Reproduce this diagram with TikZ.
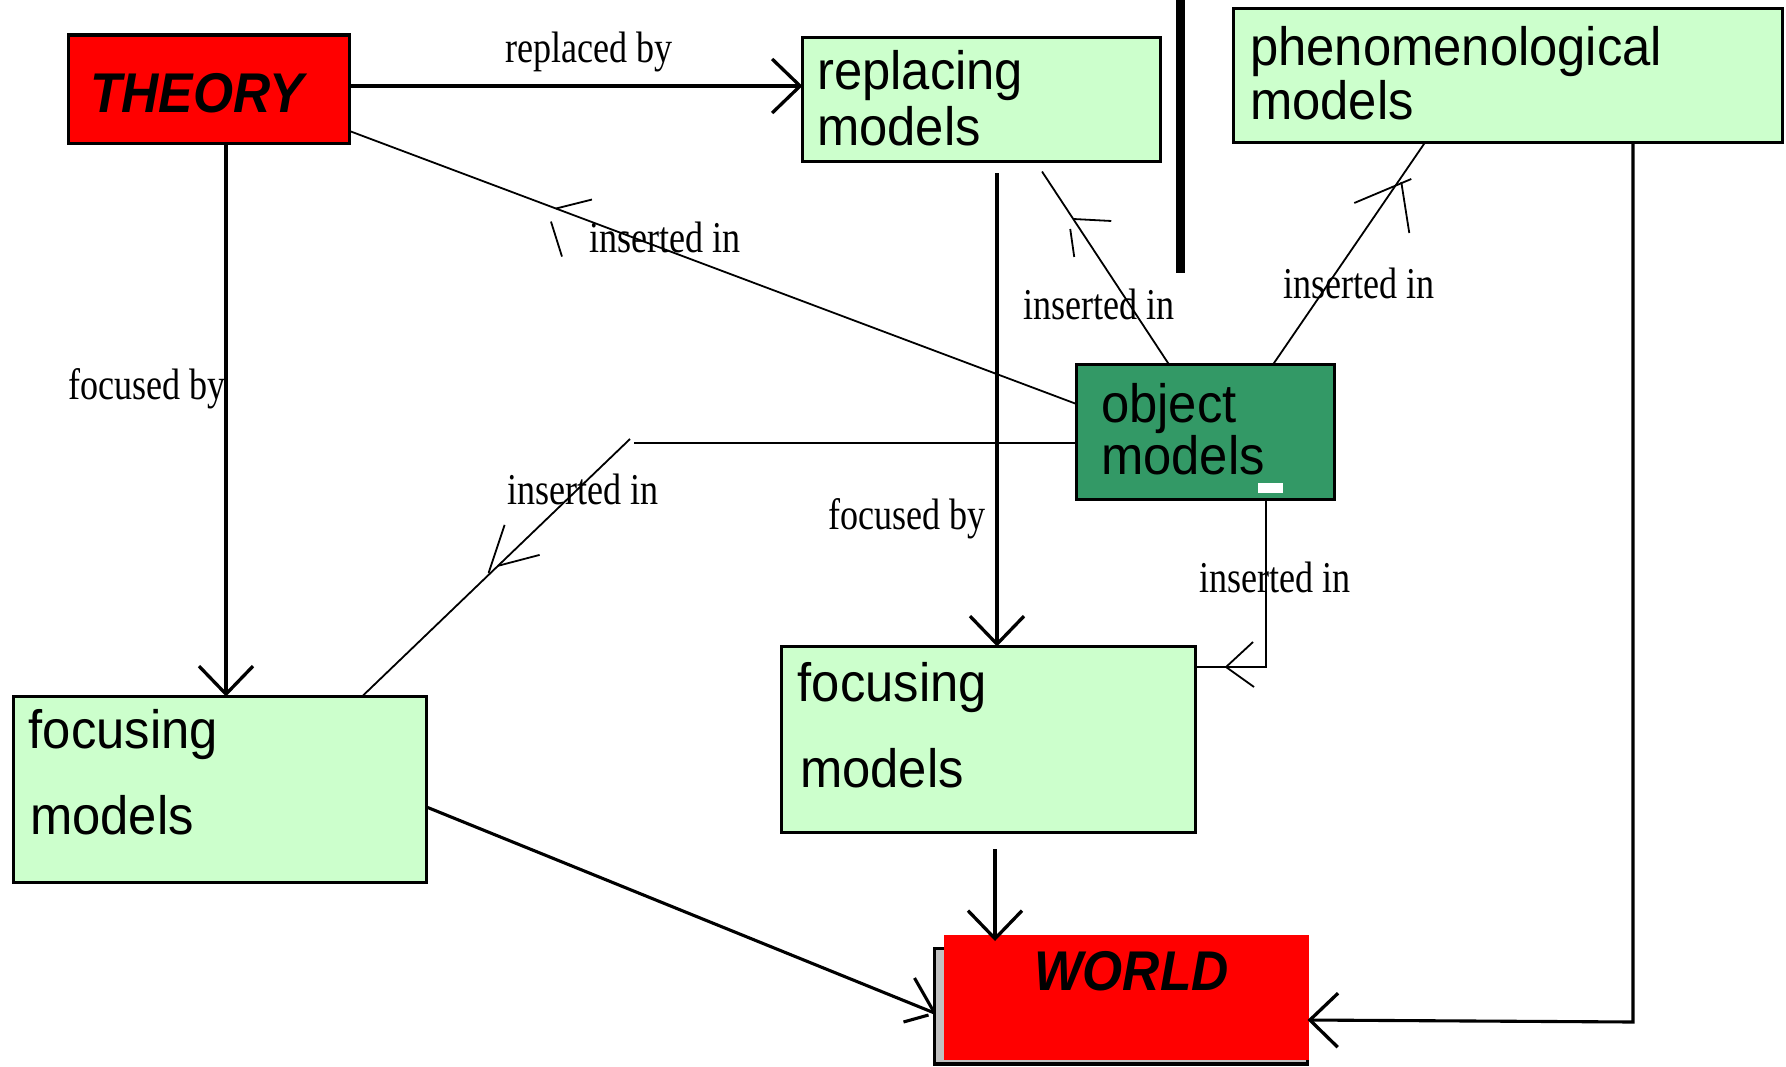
\documentclass[tikz,border=0pt]{standalone}
\usepackage{fontspec}
\usetikzlibrary{arrows.meta,calc}
\newfontfamily\boxfont[FakeStretch=0.94]{Liberation Sans}
\newfontfamily\labelfont[FakeStretch=0.82]{Liberation Serif}
\newfontfamily\headfont[FakeStretch=0.92]{Liberation Sans}
\definecolor{paleGreen}{HTML}{CCFFCC}
\definecolor{seaGreen}{HTML}{339966}
\definecolor{pureRed}{HTML}{FF0000}
\definecolor{shadowGrey}{HTML}{C0C0C0}

\begin{document}
\begin{tikzpicture}[x=1pt,y=-1pt,
  diagbox/.style={draw, line width=3.6pt, rectangle, inner sep=0pt, outer sep=0pt},
  greenbox/.style={diagbox, fill=paleGreen},
  boxline/.style={anchor=base west, inner sep=0pt, font=\boxfont\fontsize{54}{54}\selectfont},
  headtext/.style={anchor=base west, inner sep=0pt, font=\headfont\bfseries\itshape\fontsize{56}{56}\selectfont},
  edgelabel/.style={anchor=base west, inner sep=0pt, font=\labelfont\fontsize{44}{44}\selectfont},
  thickline/.style={line width=3.1pt},
  thinline/.style={line width=1.8pt},
  openhead/.style={-{Straight Barb[length=28pt,width=54pt,line width=3.3pt]}},
]
\useasboundingbox (0,0) rectangle (1786,1066);
\fill[white] (0,0) rectangle (1786,1066);

% ---- boxes ----
\node[diagbox, fill=pureRed, minimum width=281pt, minimum height=108.5pt] (theory) at (209,89.25) {};
\node[greenbox, minimum width=358pt, minimum height=124pt] (replacing) at (981.5,99.5) {};
\node[greenbox, minimum width=549pt, minimum height=134pt] (phenom) at (1508,75.5) {};
\node[diagbox, fill=seaGreen, minimum width=258pt, minimum height=135pt] (object) at (1205.5,432) {};
\node[greenbox, minimum width=413pt, minimum height=186pt] (fleft) at (220,789.5) {};
\node[greenbox, minimum width=414pt, minimum height=186pt] (fmid) at (988.5,739.5) {};
\node[diagbox, line width=3.2pt, fill=shadowGrey, minimum width=373pt, minimum height=115.5pt] (world) at (1121,1006.25) {};
\node[rectangle, fill=pureRed, inner sep=0pt, outer sep=0pt, minimum width=365pt, minimum height=125pt] (worldred) at (1126.5,997.5) {};

% small white mark inside the object box
\fill[white] (1258,483) rectangle (1283,493);

% thick separator bar
\draw[line width=9pt] (1180,0) -- (1180,273);

% ---- box texts ----
\node[headtext] (theoryT) at (90,112) {THEORY};
\node[headtext] (worldT) at (1034,990) {WORLD};
\node[boxline] (rep1) at (817,89) {replacing};
\node[boxline] (rep2) at (817,145) {models};
\node[boxline] (phe1) at (1250,65) {phenomenological};
\node[boxline] (phe2) at (1250,119) {models};
\node[boxline] (obj1) at (1101,422) {object};
\node[boxline] (obj2) at (1101,474) {models};
\node[boxline] (fl1) at (28.5,748) {focusing};
\node[boxline] (fl2) at (30,834) {models};
\node[boxline] (fm1) at (797.5,701) {focusing};
\node[boxline] (fm2) at (800,787) {models};

% ---- edge labels ----
\node[edgelabel] (lrep) at (505,62) {replaced by};
\node[edgelabel] (lins1) at (589,252) {inserted in};
\node[edgelabel] (lins2) at (1023,319) {inserted in};
\node[edgelabel] (lins3) at (1283,298) {inserted in};
\node[edgelabel] (lfoc1) at (68,399) {focused by};
\node[edgelabel] (lins4) at (507,504) {inserted in};
\node[edgelabel] (lfoc2) at (828,529) {focused by};
\node[edgelabel] (lins5) at (1199,592) {inserted in};

% ---- main connectors ----
\draw[thickline, openhead] (theory.east |- 0,86) -- (replacing.west |- 0,86);
\draw[thickline, openhead] (226,0 |- theory.south) -- (226,0 |- fleft.north);
\draw[thickline, openhead] ($(997,0 |- replacing.south)+(0,11.5)$) -- (997,0 |- fmid.north);
\draw[thickline, openhead] ($(995,0 |- fmid.south)+(0,16.5)$) -- ($(995,0 |- worldred.north)+(0,6)$);
\coordinate (cornerK) at (1633,1022);
\draw[thickline, openhead] (1633,0 |- phenom.south) -- (cornerK) -- (world.east |- 0,1020);

% focusing models (left) to world, hand-drawn head
\coordinate (tipJ) at (world.west |- 0,1013);
\draw[thickline] (fleft.east |- 0,807) -- (tipJ);
\draw[thickline] ($(tipJ)+(-20,-35)$) -- (tipJ);
\draw[thickline] ($(tipJ)+(-31,9)$) -- ++(25,-7);

% ---- "inserted in" connectors (thin, heads mid-line) ----
\draw[thinline] (object.west |- 0,404) -- coordinate[pos=0.716] (tipC) (theory.east |- 0,131);
\draw[thinline] (tipC) -- ++(36,-9);
\draw[thinline] ($(tipC)+(-5,13)$) -- ++(11,35);

\draw[thinline] (1169,0 |- object.north) -- coordinate[pos=0.754] (tipD) ($(1042,0 |- replacing.south)+(0,10)$);
\draw[thinline] (tipD) -- ++(38,2);
\draw[thinline] ($(tipD)+(-3,10)$) -- ++(4,28);

\draw[thinline] (1273,0 |- object.north) -- coordinate[pos=0.8176] (tipE) (1425,0 |- phenom.south);
\draw[thinline] ($(tipE)+(4,-1)$) -- ++(8,51);
\draw[thinline] ($(tipE)+(-43,20)$) -- ++(57,-24);

\coordinate (bendF1) at (634,443);
\coordinate (bendF2) at (630,439);
\draw[thinline] (object.west |- bendF1) -- (bendF1);
\draw[thinline] (bendF2) -- coordinate[pos=0.52] (tipF) (362,0 |- fleft.north);
\draw[thinline] ($(tipF)+(-2,0)$) -- ++(16,-48);
\draw[thinline] ($(tipF)+(7,-7)$) -- ++(42,-11);

\coordinate (cornerG) at (1266,667);
\draw[line width=1.5pt] (1266,0 |- object.south) -- (cornerG) -- coordinate[pos=0.567] (tipG) (fmid.east |- cornerG);
\draw[thinline] (tipG) -- ++(27,-25);
\draw[thinline] (tipG) -- ++(28,20);
\end{tikzpicture}
\end{document}
